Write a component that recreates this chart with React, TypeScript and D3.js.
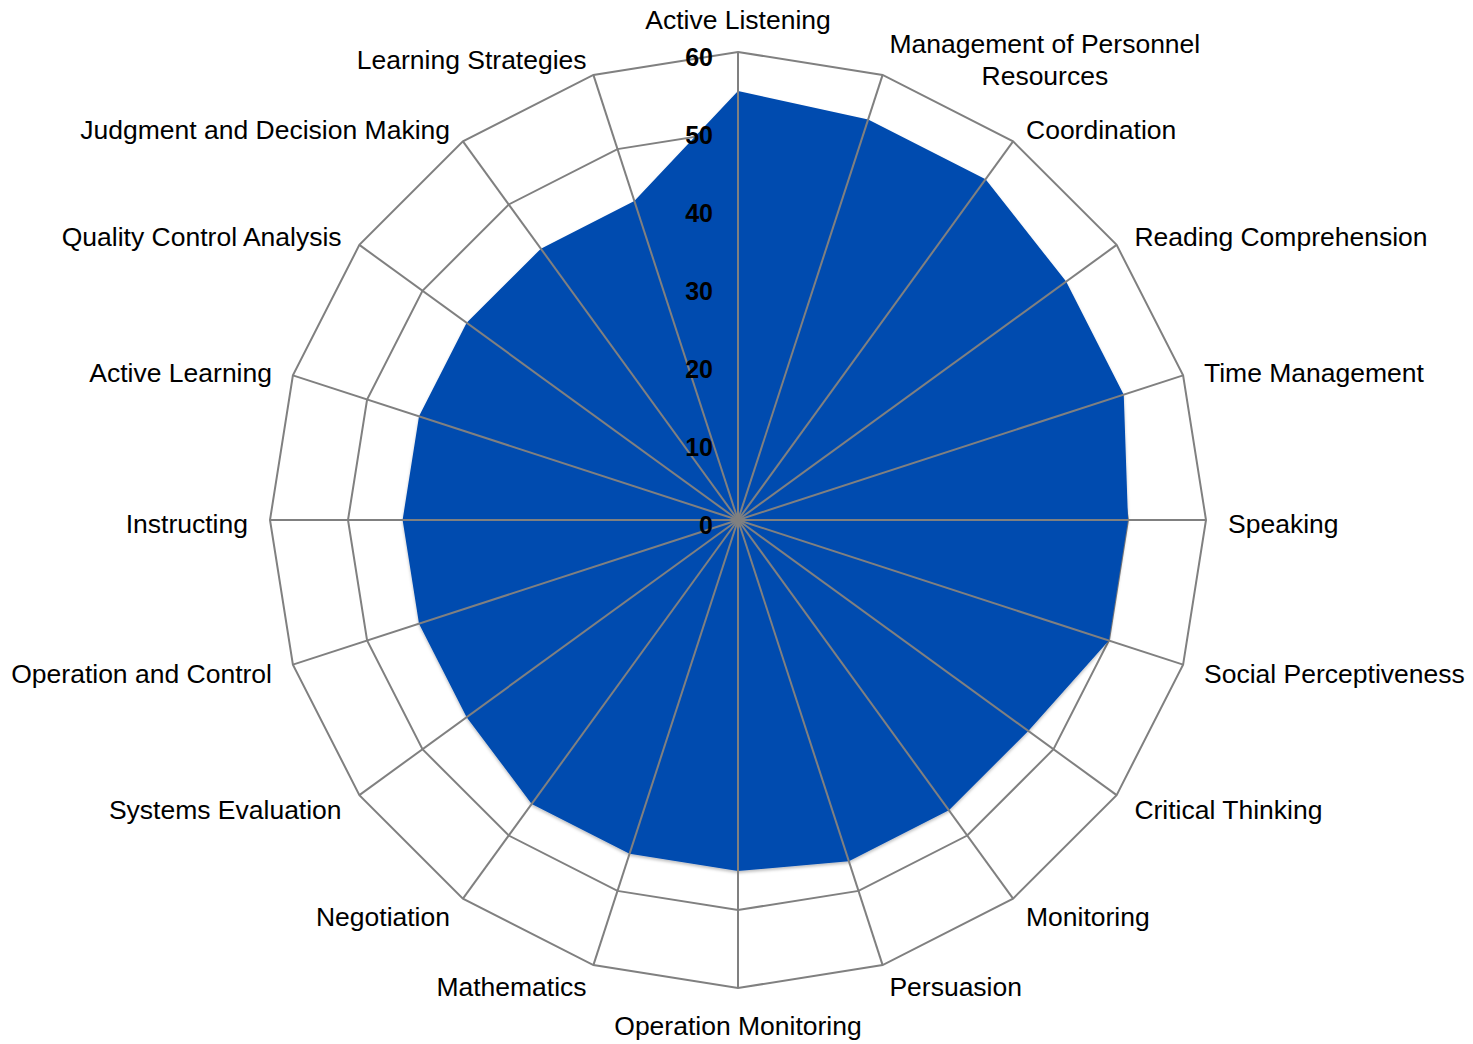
import React, { useEffect, useRef } from "react";
import * as d3 from "d3";

const categories = [
  "Active Listening",
  "Management of Personnel Resources",
  "Coordination",
  "Reading Comprehension",
  "Time Management",
  "Speaking",
  "Social Perceptiveness",
  "Critical Thinking",
  "Monitoring",
  "Persuasion",
  "Operation Monitoring",
  "Mathematics",
  "Negotiation",
  "Systems Evaluation",
  "Operation and Control",
  "Instructing",
  "Active Learning",
  "Quality Control Analysis",
  "Judgment and Decision Making",
  "Learning Strategies",
];

const values = [55, 54, 54, 52, 52, 50, 50, 46, 46, 46, 45, 45, 45, 43, 43, 43, 43, 43, 43, 43];

const tickValues = [0, 10, 20, 30, 40, 50, 60];

// labels that wrap onto two lines in the original
const wrapped: Record<string, string[]> = {
  "Management of Personnel Resources": ["Management of Personnel", "Resources"],
};

const App = () => {
  const svgRef = useRef<SVGSVGElement>(null);

  useEffect(() => {
    const width = 1473;
    const height = 1044;
    const cx = 738;
    const cy = 520;
    const outerR = 468;
    const font = "'Liberation Sans', Arial, sans-serif";
    const gridColor = "#808080";

    const svg = d3.select(svgRef.current);
    svg.attr("width", width).attr("height", height);
    svg.selectAll("*").remove();

    const defs = svg.append("defs");
    const shadow = defs.append("filter").attr("id", "areaShadow").attr("x", "-10%").attr("y", "-10%").attr("width", "120%").attr("height", "120%");
    shadow
      .append("feDropShadow")
      .attr("dx", 0)
      .attr("dy", 2)
      .attr("stdDeviation", 1.5)
      .attr("flood-color", "#000")
      .attr("flood-opacity", 0.25);

    const angle = d3
      .scaleBand<string>()
      .domain(categories)
      .range([0, 2 * Math.PI])
      .align(0)
      .paddingInner(0)
      .paddingOuter(0);

    const r = d3.scaleLinear().domain([0, 60]).range([0, outerR]);

    const g = svg.append("g").attr("transform", `translate(${cx},${cy})`);

    // Rings (behind the filled area)
    const ring = d3
      .lineRadial<string>()
      .angle((d) => angle(d)!)
      .curve(d3.curveLinearClosed);

    g.append("g")
      .selectAll("path")
      .data(tickValues.filter((t) => t > 0))
      .join("path")
      .attr("d", (t) => ring.radius(r(t))(categories))
      .attr("fill", "none")
      .attr("stroke", gridColor)
      .attr("stroke-width", 2);

    // Filled series
    const area = d3
      .lineRadial<number>()
      .angle((_, i) => angle(categories[i])!)
      .radius((d) => r(d))
      .curve(d3.curveLinearClosed);

    g.append("path")
      .attr("d", area(values))
      .attr("fill", "#034BAF")
      .attr("filter", "url(#areaShadow)");

    // Spokes (drawn over the fill)
    g.append("g")
      .selectAll("line")
      .data(categories)
      .join("line")
      .attr("x1", 0)
      .attr("y1", 0)
      .attr("x2", (d) => r(60) * Math.sin(angle(d)!))
      .attr("y2", (d) => -r(60) * Math.cos(angle(d)!))
      .attr("stroke", gridColor)
      .attr("stroke-width", 2);

    // Category labels
    const labelGap = 22;
    const labels = g.append("g").attr("font-family", font).attr("font-size", 26.5).attr("fill", "#000");

    categories.forEach((c) => {
      const a = angle(c)!;
      const s = Math.sin(a);
      const co = Math.cos(a);
      const ax = (r(60) + labelGap) * s;
      const ay = -(r(60) + labelGap) * co;
      const lines = wrapped[c] || [c];
      const lineH = 32;
      const side = Math.abs(s) < 0.01 ? 0 : s > 0 ? 1 : -1;

      let baseline: number;
      if (side === 0 && co > 0) baseline = ay - 1 - (lines.length - 1) * lineH;
      else if (side === 0) baseline = ay + 25;
      else baseline = ay + 3 + 3 * co + 9.5 - ((lines.length - 1) * lineH) / 2;

      const t = labels.append("text").attr("y", baseline);
      lines.forEach((ln, i) => {
        t.append("tspan").attr("x", 0).attr("dy", i === 0 ? 0 : lineH).text(ln);
      });

      if (lines.length > 1) {
        // center lines within the block
        let maxW = 0;
        t.selectAll<SVGTSpanElement, unknown>("tspan").each(function () {
          maxW = Math.max(maxW, this.getComputedTextLength());
        });
        const mid = side === 1 ? ax + maxW / 2 : side === -1 ? ax - maxW / 2 : ax;
        t.attr("text-anchor", "middle").selectAll("tspan").attr("x", mid);
      } else {
        t.attr("text-anchor", side === 1 ? "start" : side === -1 ? "end" : "middle");
        t.selectAll("tspan").attr("x", ax);
      }
    });

    // Value ticks along the first axis
    g.append("g")
      .selectAll("text")
      .data(tickValues)
      .join("text")
      .attr("x", -25)
      .attr("y", (d) => -r(d) + 14)
      .attr("text-anchor", "end")
      .attr("font-family", font)
      .attr("font-size", 25)
      .attr("font-weight", "bold")
      .attr("fill", "#000")
      .text((d) => d);
  }, []);

  return (
    <div style={{ position: "absolute", left: 0, top: 0 }}>
      <svg ref={svgRef}></svg>
    </div>
  );
};

export default App;
